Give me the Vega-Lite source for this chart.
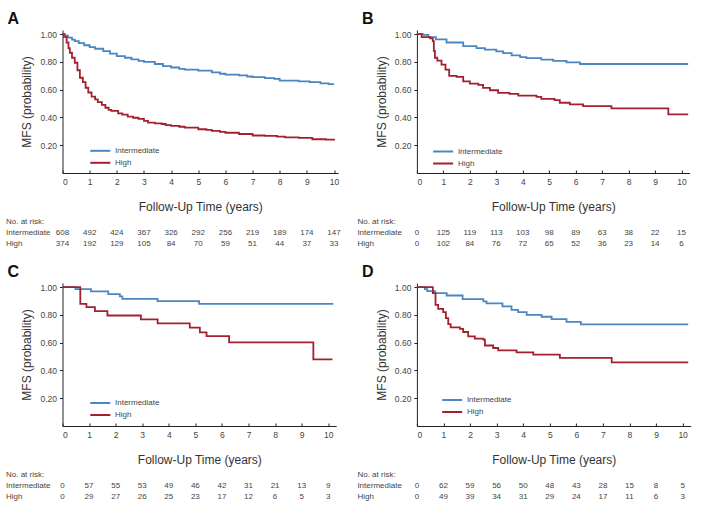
{
  "$schema": "https://vega.github.io/schema/vega-lite/v6.json",
  "autosize": {"type": "pad"},
  "padding": {"left": 5.5, "top": 11, "right": 5, "bottom": 5},
  "background": "white",
  "config": {
    "font": "Liberation Sans",
    "view": {"stroke": null},
    "axis": {"grid": false, "domainColor": "#222", "tickColor": "#222", "labelColor": "#444", "titleColor": "#333", "titleFontWeight": "normal", "labelFontSize": 8.5, "tickSize": 3, "labelPadding": 3},
    "legend": {"labelFontSize": 8, "labelColor": "#444"},
    "title": {"fontSize": 16, "fontWeight": "bold", "color": "#111", "font": "Liberation Sans"}
  },
  "datasets": {
    "km": [
      {"panel":"A","group":"Intermediate","t":0,"s":1.0},{"panel":"A","group":"Intermediate","t":0.1,"s":0.99},{"panel":"A","group":"Intermediate","t":0.2,"s":0.975},{"panel":"A","group":"Intermediate","t":0.35,"s":0.96},{"panel":"A","group":"Intermediate","t":0.45,"s":0.95},{"panel":"A","group":"Intermediate","t":0.6,"s":0.935},{"panel":"A","group":"Intermediate","t":0.8,"s":0.92},{"panel":"A","group":"Intermediate","t":1.0,"s":0.907},{"panel":"A","group":"Intermediate","t":1.2,"s":0.895},{"panel":"A","group":"Intermediate","t":1.5,"s":0.878},{"panel":"A","group":"Intermediate","t":1.75,"s":0.86},{"panel":"A","group":"Intermediate","t":2.0,"s":0.842},{"panel":"A","group":"Intermediate","t":2.3,"s":0.83},{"panel":"A","group":"Intermediate","t":2.54,"s":0.818},{"panel":"A","group":"Intermediate","t":2.8,"s":0.808},{"panel":"A","group":"Intermediate","t":3.0,"s":0.8},{"panel":"A","group":"Intermediate","t":3.4,"s":0.785},{"panel":"A","group":"Intermediate","t":3.7,"s":0.77},{"panel":"A","group":"Intermediate","t":4.0,"s":0.76},{"panel":"A","group":"Intermediate","t":4.3,"s":0.75},{"panel":"A","group":"Intermediate","t":4.5,"s":0.744},{"panel":"A","group":"Intermediate","t":5.0,"s":0.737},{"panel":"A","group":"Intermediate","t":5.5,"s":0.725},{"panel":"A","group":"Intermediate","t":5.8,"s":0.715},{"panel":"A","group":"Intermediate","t":6.0,"s":0.708},{"panel":"A","group":"Intermediate","t":6.5,"s":0.703},{"panel":"A","group":"Intermediate","t":6.8,"s":0.695},{"panel":"A","group":"Intermediate","t":7.0,"s":0.69},{"panel":"A","group":"Intermediate","t":7.45,"s":0.684},{"panel":"A","group":"Intermediate","t":7.8,"s":0.678},{"panel":"A","group":"Intermediate","t":8.0,"s":0.665},{"panel":"A","group":"Intermediate","t":8.7,"s":0.66},{"panel":"A","group":"Intermediate","t":9.1,"s":0.655},{"panel":"A","group":"Intermediate","t":9.5,"s":0.645},{"panel":"A","group":"Intermediate","t":9.8,"s":0.64},{"panel":"A","group":"Intermediate","t":10.0,"s":0.64},
      {"panel":"A","group":"High","t":0,"s":1.0},{"panel":"A","group":"High","t":0.05,"s":0.98},{"panel":"A","group":"High","t":0.15,"s":0.94},{"panel":"A","group":"High","t":0.22,"s":0.9},{"panel":"A","group":"High","t":0.27,"s":0.866},{"panel":"A","group":"High","t":0.35,"s":0.83},{"panel":"A","group":"High","t":0.45,"s":0.794},{"panel":"A","group":"High","t":0.55,"s":0.74},{"panel":"A","group":"High","t":0.64,"s":0.686},{"panel":"A","group":"High","t":0.75,"s":0.655},{"panel":"A","group":"High","t":0.85,"s":0.614},{"panel":"A","group":"High","t":0.95,"s":0.58},{"panel":"A","group":"High","t":1.07,"s":0.55},{"panel":"A","group":"High","t":1.2,"s":0.53},{"panel":"A","group":"High","t":1.3,"s":0.51},{"panel":"A","group":"High","t":1.45,"s":0.49},{"panel":"A","group":"High","t":1.58,"s":0.47},{"panel":"A","group":"High","t":1.7,"s":0.455},{"panel":"A","group":"High","t":1.8,"s":0.447},{"panel":"A","group":"High","t":2.05,"s":0.43},{"panel":"A","group":"High","t":2.2,"s":0.42},{"panel":"A","group":"High","t":2.4,"s":0.406},{"panel":"A","group":"High","t":2.6,"s":0.398},{"panel":"A","group":"High","t":2.8,"s":0.39},{"panel":"A","group":"High","t":3.0,"s":0.375},{"panel":"A","group":"High","t":3.15,"s":0.363},{"panel":"A","group":"High","t":3.4,"s":0.357},{"panel":"A","group":"High","t":3.65,"s":0.353},{"panel":"A","group":"High","t":3.8,"s":0.345},{"panel":"A","group":"High","t":4.0,"s":0.339},{"panel":"A","group":"High","t":4.3,"s":0.333},{"panel":"A","group":"High","t":4.5,"s":0.327},{"panel":"A","group":"High","t":5.0,"s":0.315},{"panel":"A","group":"High","t":5.3,"s":0.31},{"panel":"A","group":"High","t":5.5,"s":0.303},{"panel":"A","group":"High","t":5.8,"s":0.296},{"panel":"A","group":"High","t":6.0,"s":0.29},{"panel":"A","group":"High","t":6.5,"s":0.281},{"panel":"A","group":"High","t":7.0,"s":0.27},{"panel":"A","group":"High","t":7.45,"s":0.267},{"panel":"A","group":"High","t":7.9,"s":0.262},{"panel":"A","group":"High","t":8.2,"s":0.257},{"panel":"A","group":"High","t":8.7,"s":0.253},{"panel":"A","group":"High","t":9.2,"s":0.243},{"panel":"A","group":"High","t":9.7,"s":0.24},{"panel":"A","group":"High","t":10.0,"s":0.234},
      {"panel":"B","group":"Intermediate","t":0,"s":1.0},{"panel":"B","group":"Intermediate","t":0.24,"s":0.995},{"panel":"B","group":"Intermediate","t":0.43,"s":0.978},{"panel":"B","group":"Intermediate","t":0.72,"s":0.962},{"panel":"B","group":"Intermediate","t":1.12,"s":0.94},{"panel":"B","group":"Intermediate","t":1.75,"s":0.914},{"panel":"B","group":"Intermediate","t":2.25,"s":0.9},{"panel":"B","group":"Intermediate","t":2.57,"s":0.888},{"panel":"B","group":"Intermediate","t":3.0,"s":0.876},{"panel":"B","group":"Intermediate","t":3.26,"s":0.864},{"panel":"B","group":"Intermediate","t":3.58,"s":0.847},{"panel":"B","group":"Intermediate","t":3.9,"s":0.835},{"panel":"B","group":"Intermediate","t":4.14,"s":0.828},{"panel":"B","group":"Intermediate","t":4.7,"s":0.816},{"panel":"B","group":"Intermediate","t":5.15,"s":0.807},{"panel":"B","group":"Intermediate","t":5.65,"s":0.797},{"panel":"B","group":"Intermediate","t":6.16,"s":0.785},{"panel":"B","group":"Intermediate","t":10.25,"s":0.785},
      {"panel":"B","group":"High","t":0,"s":1.0},{"panel":"B","group":"High","t":0.18,"s":0.978},{"panel":"B","group":"High","t":0.5,"s":0.97},{"panel":"B","group":"High","t":0.6,"s":0.95},{"panel":"B","group":"High","t":0.64,"s":0.88},{"panel":"B","group":"High","t":0.68,"s":0.83},{"panel":"B","group":"High","t":0.77,"s":0.81},{"panel":"B","group":"High","t":0.93,"s":0.78},{"panel":"B","group":"High","t":1.08,"s":0.745},{"panel":"B","group":"High","t":1.22,"s":0.7},{"panel":"B","group":"High","t":1.5,"s":0.692},{"panel":"B","group":"High","t":1.75,"s":0.66},{"panel":"B","group":"High","t":2.0,"s":0.644},{"panel":"B","group":"High","t":2.32,"s":0.635},{"panel":"B","group":"High","t":2.5,"s":0.613},{"panel":"B","group":"High","t":2.76,"s":0.596},{"panel":"B","group":"High","t":3.07,"s":0.577},{"panel":"B","group":"High","t":3.5,"s":0.57},{"panel":"B","group":"High","t":3.83,"s":0.558},{"panel":"B","group":"High","t":4.52,"s":0.549},{"panel":"B","group":"High","t":4.7,"s":0.534},{"panel":"B","group":"High","t":5.2,"s":0.525},{"panel":"B","group":"High","t":5.4,"s":0.506},{"panel":"B","group":"High","t":5.78,"s":0.494},{"panel":"B","group":"High","t":6.28,"s":0.482},{"panel":"B","group":"High","t":7.35,"s":0.465},{"panel":"B","group":"High","t":9.5,"s":0.422},{"panel":"B","group":"High","t":10.25,"s":0.422},
      {"panel":"C","group":"Intermediate","t":0,"s":1.0},{"panel":"C","group":"Intermediate","t":0.49,"s":0.986},{"panel":"C","group":"Intermediate","t":1.07,"s":0.969},{"panel":"C","group":"Intermediate","t":1.72,"s":0.95},{"panel":"C","group":"Intermediate","t":2.16,"s":0.933},{"panel":"C","group":"Intermediate","t":2.25,"s":0.916},{"panel":"C","group":"Intermediate","t":3.58,"s":0.9},{"panel":"C","group":"Intermediate","t":5.14,"s":0.88},{"panel":"C","group":"Intermediate","t":10.19,"s":0.88},
      {"panel":"C","group":"High","t":0,"s":1.0},{"panel":"C","group":"High","t":0.67,"s":0.88},{"panel":"C","group":"High","t":0.9,"s":0.856},{"panel":"C","group":"High","t":1.22,"s":0.827},{"panel":"C","group":"High","t":1.69,"s":0.796},{"panel":"C","group":"High","t":2.95,"s":0.768},{"panel":"C","group":"High","t":3.58,"s":0.739},{"panel":"C","group":"High","t":4.79,"s":0.708},{"panel":"C","group":"High","t":5.17,"s":0.674},{"panel":"C","group":"High","t":5.42,"s":0.648},{"panel":"C","group":"High","t":6.27,"s":0.602},{"panel":"C","group":"High","t":9.44,"s":0.48},{"panel":"C","group":"High","t":10.16,"s":0.48},
      {"panel":"D","group":"Intermediate","t":0,"s":1.0},{"panel":"D","group":"Intermediate","t":0.3,"s":0.986},{"panel":"D","group":"Intermediate","t":0.39,"s":0.971},{"panel":"D","group":"Intermediate","t":0.68,"s":0.957},{"panel":"D","group":"Intermediate","t":1.12,"s":0.94},{"panel":"D","group":"Intermediate","t":1.72,"s":0.914},{"panel":"D","group":"Intermediate","t":2.5,"s":0.897},{"panel":"D","group":"Intermediate","t":2.62,"s":0.883},{"panel":"D","group":"Intermediate","t":3.22,"s":0.861},{"panel":"D","group":"Intermediate","t":3.56,"s":0.837},{"panel":"D","group":"Intermediate","t":3.81,"s":0.82},{"panel":"D","group":"Intermediate","t":4.13,"s":0.8},{"panel":"D","group":"Intermediate","t":4.69,"s":0.787},{"panel":"D","group":"Intermediate","t":5.07,"s":0.77},{"panel":"D","group":"Intermediate","t":5.63,"s":0.75},{"panel":"D","group":"Intermediate","t":6.17,"s":0.732},{"panel":"D","group":"Intermediate","t":10.21,"s":0.732},
      {"panel":"D","group":"High","t":0,"s":1.0},{"panel":"D","group":"High","t":0.6,"s":0.957},{"panel":"D","group":"High","t":0.7,"s":0.873},{"panel":"D","group":"High","t":0.8,"s":0.844},{"panel":"D","group":"High","t":0.99,"s":0.82},{"panel":"D","group":"High","t":1.09,"s":0.777},{"panel":"D","group":"High","t":1.18,"s":0.734},{"panel":"D","group":"High","t":1.27,"s":0.71},{"panel":"D","group":"High","t":1.62,"s":0.7},{"panel":"D","group":"High","t":1.74,"s":0.677},{"panel":"D","group":"High","t":1.93,"s":0.646},{"panel":"D","group":"High","t":2.18,"s":0.629},{"panel":"D","group":"High","t":2.5,"s":0.622},{"panel":"D","group":"High","t":2.56,"s":0.58},{"panel":"D","group":"High","t":2.87,"s":0.562},{"panel":"D","group":"High","t":3.06,"s":0.545},{"panel":"D","group":"High","t":3.75,"s":0.531},{"panel":"D","group":"High","t":4.38,"s":0.514},{"panel":"D","group":"High","t":5.38,"s":0.49},{"panel":"D","group":"High","t":7.33,"s":0.459},{"panel":"D","group":"High","t":10.21,"s":0.459}
    ],
    "risk": [
      {"panel":"A","group":"Intermediate","t":0,"n":608},{"panel":"A","group":"Intermediate","t":1,"n":492},{"panel":"A","group":"Intermediate","t":2,"n":424},{"panel":"A","group":"Intermediate","t":3,"n":367},{"panel":"A","group":"Intermediate","t":4,"n":326},{"panel":"A","group":"Intermediate","t":5,"n":292},{"panel":"A","group":"Intermediate","t":6,"n":256},{"panel":"A","group":"Intermediate","t":7,"n":219},{"panel":"A","group":"Intermediate","t":8,"n":189},{"panel":"A","group":"Intermediate","t":9,"n":174},{"panel":"A","group":"Intermediate","t":10,"n":147},
      {"panel":"A","group":"High","t":0,"n":374},{"panel":"A","group":"High","t":1,"n":192},{"panel":"A","group":"High","t":2,"n":129},{"panel":"A","group":"High","t":3,"n":105},{"panel":"A","group":"High","t":4,"n":84},{"panel":"A","group":"High","t":5,"n":70},{"panel":"A","group":"High","t":6,"n":59},{"panel":"A","group":"High","t":7,"n":51},{"panel":"A","group":"High","t":8,"n":44},{"panel":"A","group":"High","t":9,"n":37},{"panel":"A","group":"High","t":10,"n":33},
      {"panel":"B","group":"Intermediate","t":0,"n":0},{"panel":"B","group":"Intermediate","t":1,"n":125},{"panel":"B","group":"Intermediate","t":2,"n":119},{"panel":"B","group":"Intermediate","t":3,"n":113},{"panel":"B","group":"Intermediate","t":4,"n":103},{"panel":"B","group":"Intermediate","t":5,"n":98},{"panel":"B","group":"Intermediate","t":6,"n":89},{"panel":"B","group":"Intermediate","t":7,"n":63},{"panel":"B","group":"Intermediate","t":8,"n":38},{"panel":"B","group":"Intermediate","t":9,"n":22},{"panel":"B","group":"Intermediate","t":10,"n":15},
      {"panel":"B","group":"High","t":0,"n":0},{"panel":"B","group":"High","t":1,"n":102},{"panel":"B","group":"High","t":2,"n":84},{"panel":"B","group":"High","t":3,"n":76},{"panel":"B","group":"High","t":4,"n":72},{"panel":"B","group":"High","t":5,"n":65},{"panel":"B","group":"High","t":6,"n":52},{"panel":"B","group":"High","t":7,"n":36},{"panel":"B","group":"High","t":8,"n":23},{"panel":"B","group":"High","t":9,"n":14},{"panel":"B","group":"High","t":10,"n":6},
      {"panel":"C","group":"Intermediate","t":0,"n":0},{"panel":"C","group":"Intermediate","t":1,"n":57},{"panel":"C","group":"Intermediate","t":2,"n":55},{"panel":"C","group":"Intermediate","t":3,"n":53},{"panel":"C","group":"Intermediate","t":4,"n":49},{"panel":"C","group":"Intermediate","t":5,"n":46},{"panel":"C","group":"Intermediate","t":6,"n":42},{"panel":"C","group":"Intermediate","t":7,"n":31},{"panel":"C","group":"Intermediate","t":8,"n":21},{"panel":"C","group":"Intermediate","t":9,"n":13},{"panel":"C","group":"Intermediate","t":10,"n":9},
      {"panel":"C","group":"High","t":0,"n":0},{"panel":"C","group":"High","t":1,"n":29},{"panel":"C","group":"High","t":2,"n":27},{"panel":"C","group":"High","t":3,"n":26},{"panel":"C","group":"High","t":4,"n":25},{"panel":"C","group":"High","t":5,"n":23},{"panel":"C","group":"High","t":6,"n":17},{"panel":"C","group":"High","t":7,"n":12},{"panel":"C","group":"High","t":8,"n":6},{"panel":"C","group":"High","t":9,"n":5},{"panel":"C","group":"High","t":10,"n":3},
      {"panel":"D","group":"Intermediate","t":0,"n":0},{"panel":"D","group":"Intermediate","t":1,"n":62},{"panel":"D","group":"Intermediate","t":2,"n":59},{"panel":"D","group":"Intermediate","t":3,"n":56},{"panel":"D","group":"Intermediate","t":4,"n":50},{"panel":"D","group":"Intermediate","t":5,"n":48},{"panel":"D","group":"Intermediate","t":6,"n":43},{"panel":"D","group":"Intermediate","t":7,"n":28},{"panel":"D","group":"Intermediate","t":8,"n":15},{"panel":"D","group":"Intermediate","t":9,"n":8},{"panel":"D","group":"Intermediate","t":10,"n":5},
      {"panel":"D","group":"High","t":0,"n":0},{"panel":"D","group":"High","t":1,"n":49},{"panel":"D","group":"High","t":2,"n":39},{"panel":"D","group":"High","t":3,"n":34},{"panel":"D","group":"High","t":4,"n":31},{"panel":"D","group":"High","t":5,"n":29},{"panel":"D","group":"High","t":6,"n":24},{"panel":"D","group":"High","t":7,"n":17},{"panel":"D","group":"High","t":8,"n":11},{"panel":"D","group":"High","t":9,"n":6},{"panel":"D","group":"High","t":10,"n":3}
    ]
  },
  "bounds": "flush",
  "columns": 2,
  "spacing": {"row": 33.5, "column": 78.4},
  "resolve": {"scale": {"color": "independent"}, "legend": {"color": "independent"}},
  "concat": [
    {
      "width": 275.6, "height": 143,
      "title": {"text": "A", "anchor": "start", "frame": "group", "dx": -55, "offset": 3},
      "data": {"name": "km"},
      "transform": [{"filter": "datum.panel === 'A'"}],
      "mark": {"type": "line", "interpolate": "step-after", "strokeWidth": 1.8},
      "encoding": {
        "x": {"field": "t", "type": "quantitative", "scale": {"domain": [0, 10.15], "nice": false}, "axis": {"values": [0,1,2,3,4,5,6,7,8,9,10], "tickSize": -3, "labelPadding": 7, "title": "Follow-Up Time (years)", "titleFontSize": 12, "titlePadding": 16}},
        "y": {"field": "s", "type": "quantitative", "scale": {"domain": [0, 1.03], "nice": false, "zero": false}, "axis": {"values": [0.2,0.4,0.6,0.8,1.0], "format": ".2f", "title": "MFS (probability)", "titleFontSize": 12, "titlePadding": 6}},
        "color": {"field": "group", "type": "nominal", "scale": {"domain": ["Intermediate", "High"], "range": ["#4a86c2", "#a3212f"]}, "legend": {"title": null, "orient": "none", "legendX": 31.8, "legendY": 114.8, "symbolType": "M-2,0H2", "symbolSize": 100, "symbolStrokeWidth": 2, "labelOffset": 8.7, "rowPadding": 2}}
      }
    },
    {
      "width": 272.6, "height": 143,
      "title": {"text": "B", "anchor": "start", "frame": "group", "dx": -55, "offset": 3},
      "data": {"name": "km"},
      "transform": [{"filter": "datum.panel === 'B'"}],
      "mark": {"type": "line", "interpolate": "step-after", "strokeWidth": 1.8},
      "encoding": {
        "x": {"field": "t", "type": "quantitative", "scale": {"domain": [0, 10.3], "nice": false}, "axis": {"values": [0,1,2,3,4,5,6,7,8,9,10], "tickSize": -3, "labelPadding": 7, "title": "Follow-Up Time (years)", "titleFontSize": 12, "titlePadding": 16}},
        "y": {"field": "s", "type": "quantitative", "scale": {"domain": [0, 1.03], "nice": false, "zero": false}, "axis": {"values": [0.2,0.4,0.6,0.8,1.0], "format": ".2f", "title": "MFS (probability)", "titleFontSize": 12, "titlePadding": 6}},
        "color": {"field": "group", "type": "nominal", "scale": {"domain": ["Intermediate", "High"], "range": ["#4a86c2", "#a3212f"]}, "legend": {"title": null, "orient": "none", "legendX": 20.2, "legendY": 115.5, "symbolType": "M-2,0H2", "symbolSize": 100, "symbolStrokeWidth": 2, "labelOffset": 8.8, "rowPadding": 2}}
      }
    },
    {
      "width": 275.6, "height": 42.4,
      "data": {"name": "risk"},
      "transform": [{"filter": "datum.panel === 'A'"}],
      "mark": {"type": "text", "fontSize": 8, "color": "#444"},
      "encoding": {
        "x": {"field": "t", "type": "quantitative", "scale": {"domain": [0, 10.15], "nice": false}, "axis": null},
        "y": {"field": "group", "type": "nominal", "scale": {"type": "band", "domain": ["No. at risk:", "Intermediate", "High"], "paddingInner": 0, "paddingOuter": 0.472, "align": 1}, "axis": {"title": null, "domain": false, "ticks": false, "tickSize": 0, "labelAlign": "left", "labelPadding": 57, "labelFontSize": 8, "labelColor": "#444"}},
        "text": {"field": "n", "type": "quantitative"}
      }
    },
    {
      "width": 272.6, "height": 42.4,
      "data": {"name": "risk"},
      "transform": [{"filter": "datum.panel === 'B'"}],
      "mark": {"type": "text", "fontSize": 8, "color": "#444"},
      "encoding": {
        "x": {"field": "t", "type": "quantitative", "scale": {"domain": [0, 10.3], "nice": false}, "axis": null},
        "y": {"field": "group", "type": "nominal", "scale": {"type": "band", "domain": ["No. at risk:", "Intermediate", "High"], "paddingInner": 0, "paddingOuter": 0.472, "align": 1}, "axis": {"title": null, "domain": false, "ticks": false, "tickSize": 0, "labelAlign": "left", "labelPadding": 60, "labelFontSize": 8, "labelColor": "#444"}},
        "text": {"field": "n", "type": "quantitative"}
      }
    },
    {
      "width": 273.7, "height": 143,
      "title": {"text": "C", "anchor": "start", "frame": "group", "dx": -55, "offset": 3},
      "data": {"name": "km"},
      "transform": [{"filter": "datum.panel === 'C'"}],
      "mark": {"type": "line", "interpolate": "step-after", "strokeWidth": 1.8},
      "encoding": {
        "x": {"field": "t", "type": "quantitative", "scale": {"domain": [0, 10.3], "nice": false}, "axis": {"values": [0,1,2,3,4,5,6,7,8,9,10], "tickSize": -3, "labelPadding": 7, "title": "Follow-Up Time (years)", "titleFontSize": 12, "titlePadding": 16}},
        "y": {"field": "s", "type": "quantitative", "scale": {"domain": [0, 1.03], "nice": false, "zero": false}, "axis": {"values": [0.2,0.4,0.6,0.8,1.0], "format": ".2f", "title": "MFS (probability)", "titleFontSize": 12, "titlePadding": 6}},
        "color": {"field": "group", "type": "nominal", "scale": {"domain": ["Intermediate", "High"], "range": ["#4a86c2", "#a3212f"]}, "legend": {"title": null, "orient": "none", "legendX": 31.8, "legendY": 114, "symbolType": "M-2,0H2", "symbolSize": 100, "symbolStrokeWidth": 2, "labelOffset": 8.7, "rowPadding": 2}}
      }
    },
    {
      "width": 273.7, "height": 143,
      "title": {"text": "D", "anchor": "start", "frame": "group", "dx": -55, "offset": 3},
      "data": {"name": "km"},
      "transform": [{"filter": "datum.panel === 'D'"}],
      "mark": {"type": "line", "interpolate": "step-after", "strokeWidth": 1.8},
      "encoding": {
        "x": {"field": "t", "type": "quantitative", "scale": {"domain": [0, 10.3], "nice": false}, "axis": {"values": [0,1,2,3,4,5,6,7,8,9,10], "tickSize": -3, "labelPadding": 7, "title": "Follow-Up Time (years)", "titleFontSize": 12, "titlePadding": 16}},
        "y": {"field": "s", "type": "quantitative", "scale": {"domain": [0, 1.03], "nice": false, "zero": false}, "axis": {"values": [0.2,0.4,0.6,0.8,1.0], "format": ".2f", "title": "MFS (probability)", "titleFontSize": 12, "titlePadding": 6}},
        "color": {"field": "group", "type": "nominal", "scale": {"domain": ["Intermediate", "High"], "range": ["#4a86c2", "#a3212f"]}, "legend": {"title": null, "orient": "none", "legendX": 29.3, "legendY": 111, "symbolType": "M-2,0H2", "symbolSize": 100, "symbolStrokeWidth": 2, "labelOffset": 8.7, "rowPadding": 2}}
      }
    },
    {
      "width": 273.7, "height": 42.4,
      "data": {"name": "risk"},
      "transform": [{"filter": "datum.panel === 'C'"}],
      "mark": {"type": "text", "fontSize": 8, "color": "#444"},
      "encoding": {
        "x": {"field": "t", "type": "quantitative", "scale": {"domain": [0, 10.3], "nice": false}, "axis": null},
        "y": {"field": "group", "type": "nominal", "scale": {"type": "band", "domain": ["No. at risk:", "Intermediate", "High"], "paddingInner": 0, "paddingOuter": 0.472, "align": 1}, "axis": {"title": null, "domain": false, "ticks": false, "tickSize": 0, "labelAlign": "left", "labelPadding": 57, "labelFontSize": 8, "labelColor": "#444"}},
        "text": {"field": "n", "type": "quantitative"}
      }
    },
    {
      "width": 273.7, "height": 42.4,
      "data": {"name": "risk"},
      "transform": [{"filter": "datum.panel === 'D'"}],
      "mark": {"type": "text", "fontSize": 8, "color": "#444"},
      "encoding": {
        "x": {"field": "t", "type": "quantitative", "scale": {"domain": [0, 10.3], "nice": false}, "axis": null},
        "y": {"field": "group", "type": "nominal", "scale": {"type": "band", "domain": ["No. at risk:", "Intermediate", "High"], "paddingInner": 0, "paddingOuter": 0.472, "align": 1}, "axis": {"title": null, "domain": false, "ticks": false, "tickSize": 0, "labelAlign": "left", "labelPadding": 60, "labelFontSize": 8, "labelColor": "#444"}},
        "text": {"field": "n", "type": "quantitative"}
      }
    }
  ]
}
